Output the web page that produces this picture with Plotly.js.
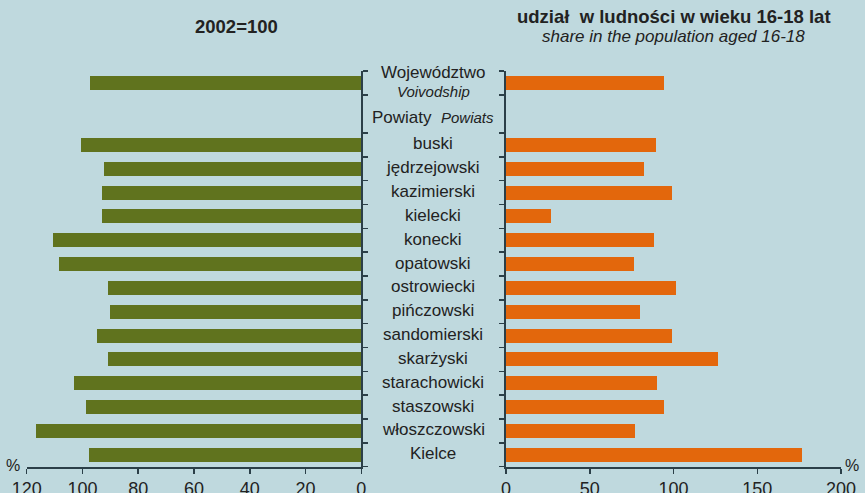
<!DOCTYPE html>
<html><head><meta charset="utf-8">
<script src="https://cdn.plot.ly/plotly-3.0.1.min.js"></script>
<style>html,body{margin:0;padding:0;background:#bfd9de;}#chart{width:865px;height:493px;}</style>
</head><body><div id="chart"></div>
<script>
// Data
const categories = ["Województwo","buski","jędrzejowski","kazimierski","kielecki","konecki","opatowski","ostrowiecki","pińczowski","sandomierski","skarżyski","starachowicki","staszowski","włoszczowski","Kielce"];
const index2002 = [97.3,100.5,92.3,93.0,93.0,110.6,108.4,90.9,90.1,94.8,90.9,103.1,98.7,116.7,97.7];
const shareValues = [94.3,89.6,82.4,99.1,26.9,88.4,76.4,101.5,80.0,99.1,126.6,90.1,94.3,77.0,176.7];
const leftTicks = [0,20,40,60,80,100,120];
const rightTicks = [0,50,100,150,200];

// Row layout: first row (voivodship), gap row for "Powiaty", then counties
const GAP = 1.6;
const rows = categories.map((c,i)=> i===0 ? 0 : i + GAP);
const boundaries = [];
rows.forEach(r=>{boundaries.push(r-0.5, r+0.5);});
const yMin = -0.5, yMax = rows[rows.length-1]+0.5;

const textColor = "#222222";
const axisColor = "#2b3f48";
const font = {family:"Liberation Sans, Arial, sans-serif", size:17, color:textColor};

const traces = [
  {type:"bar", orientation:"h", x:index2002, y:rows, xaxis:"x", yaxis:"y",
   marker:{color:"#60731e"}, width:0.59, hoverinfo:"x"},
  {type:"bar", orientation:"h", x:shareValues, y:rows, xaxis:"x2", yaxis:"y2",
   marker:{color:"#e3670c"}, width:0.59, hoverinfo:"x"}
];

const yDom = [1-466.7/493, 1-71/493];
const yCommon = {range:[yMax,yMin], domain:yDom, tickmode:"array", tickvals:boundaries, ticktext:boundaries.map(()=>""),
  ticks:"outside", ticklen:5, tickwidth:1.5, tickcolor:axisColor, showline:true, linecolor:axisColor, linewidth:2,
  showgrid:false, zeroline:false, fixedrange:true};

const annotations = [];
categories.forEach((c,i)=>{
  if(i===0){
    annotations.push({xref:"paper", yref:"y", x:433/865, y:rows[i], yshift:10, text:c, showarrow:false, font:{...font}, xanchor:"center", yanchor:"middle"});
    annotations.push({xref:"paper", yref:"y", x:433/865, y:rows[i], yshift:-9, text:"<i>Voivodship</i>", showarrow:false, font:{...font, size:15}, xanchor:"center", yanchor:"middle"});
  } else {
    annotations.push({xref:"paper", yref:"y", x:433/865, y:rows[i], yshift:1, text:c, showarrow:false, font:{...font}, xanchor:"center", yanchor:"middle"});
  }
});
annotations.push({xref:"paper", yref:"y", x:433/865, y:(rows[0]+rows[1])/2 + 0.13, text:"Powiaty  <i><span style='font-size:15px'>Powiats</span></i>", showarrow:false, font:{...font}, xanchor:"center", yanchor:"middle"});
annotations.push({xref:"paper", yref:"paper", x:237/865, y:1-27/493, text:"<b>2002=100</b>", showarrow:false, font:{...font, size:18.5}, xanchor:"center", yanchor:"middle"});
annotations.push({xref:"paper", yref:"paper", x:674/865, y:1-17/493, text:"<b>udział  w ludności w wieku 16-18 lat</b>", showarrow:false, font:{...font, size:18.5}, xanchor:"center", yanchor:"middle"});
annotations.push({xref:"paper", yref:"paper", x:673/865, y:1-36/493, text:"<i>share in the population aged 16-18</i>", showarrow:false, font:{...font, size:17}, xanchor:"center", yanchor:"middle"});
annotations.push({xref:"paper", yref:"paper", x:13/865, y:1-465/493, text:"%", showarrow:false, font:{...font, size:16}, xanchor:"center", yanchor:"middle"});
annotations.push({xref:"paper", yref:"paper", x:852/865, y:1-465/493, text:"%", showarrow:false, font:{...font, size:16}, xanchor:"center", yanchor:"middle"});

const layout = {
  width:865, height:493, margin:{l:0,r:0,t:0,b:0},
  paper_bgcolor:"#bfd9de", plot_bgcolor:"rgba(0,0,0,0)",
  showlegend:false, font:font, bargap:0,
  xaxis:{domain:[26.7/865, 361.3/865], range:[120,0], tickmode:"array", tickvals:leftTicks,
    ticks:"outside", ticklen:5, tickwidth:1.5, tickcolor:axisColor, showline:true, linecolor:axisColor, linewidth:2,
    showgrid:false, zeroline:false, tickfont:{...font, size:18}, anchor:"y", fixedrange:true},
  yaxis:{...yCommon, side:"right", anchor:"x"},
  xaxis2:{domain:[506/865, 841/865], range:[0,200], tickmode:"array", tickvals:rightTicks,
    ticks:"outside", ticklen:5, tickwidth:1.5, tickcolor:axisColor, showline:true, linecolor:axisColor, linewidth:2,
    showgrid:false, zeroline:false, tickfont:{...font, size:18}, anchor:"y2", fixedrange:true},
  yaxis2:{...yCommon, side:"left", anchor:"x2"},
  annotations:annotations
};

Plotly.newPlot("chart", traces, layout, {displayModeBar:false, staticPlot:true});
</script>
</body></html>
